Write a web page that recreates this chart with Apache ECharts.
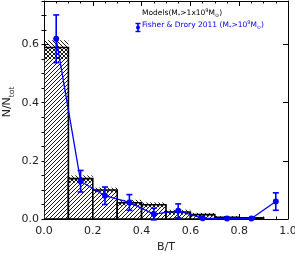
<!DOCTYPE html>
<html><head><meta charset="utf-8">
<script src="https://cdn.jsdelivr.net/npm/echarts@6/dist/echarts.min.js"></script>
<style>html,body{margin:0;padding:0;background:#fff}#c{width:295px;height:255px}</style>
</head><body><div id="c"></div><script>
// ---- data ----
const binStart = [0.0, 0.1, 0.2, 0.3, 0.4, 0.5, 0.6, 0.7, 0.8];
const binWidth = 0.1;
const modelFrac = [0.59, 0.139, 0.10, 0.056, 0.049, 0.024, 0.015, 0.006, 0.004];
const modelHi   = [0.615, 0.15, 0.108, 0.066, 0.057, 0.032, 0.021, 0.010, 0.007];
const modelLo   = [0.55, 0.125, 0.092, 0.046, 0.040, 0.015, 0.009, 0.002, 0.001];
const obsX   = [0.05, 0.15, 0.25, 0.35, 0.45, 0.55, 0.65, 0.75, 0.85, 0.95];
const obsY   = [0.62, 0.13, 0.08, 0.057, 0.017, 0.028, 0.003, 0.002, 0.002, 0.06];
const obsErr = [0.082, 0.037, 0.03, 0.027, 0.02, 0.024, 0, 0, 0, 0.03];
const xMin = 0, xMax = 1, yMin = 0, yMax = 0.75;

const FONT = 'DejaVu Sans';
function hatch(dir, bg) {
  const c = document.createElement('canvas'); c.width = 4; c.height = 4;
  const g = c.getContext('2d');
  if (bg) { g.fillStyle = bg; g.fillRect(0, 0, 4, 4); }
  g.strokeStyle = '#000'; g.lineWidth = 0.9; g.beginPath();
  if (dir > 0) { g.moveTo(-1,5); g.lineTo(5,-1); g.moveTo(-1,1); g.lineTo(1,-1); g.moveTo(3,5); g.lineTo(5,3); }
  else { g.moveTo(-1,-1); g.lineTo(5,5); g.moveTo(3,-1); g.lineTo(5,1); g.moveTo(-1,3); g.lineTo(1,5); }
  g.stroke(); return c;
}
const fwd = hatch(1, '#fff');
const back = hatch(-1, null);

const binData = binStart.map((s, i) => [s, modelFrac[i], modelLo[i], modelHi[i]]);
const obsData = obsX.map((x, i) => [x, obsY[i]]);
const errData = obsX.map((x, i) => [x, obsY[i] - obsErr[i], obsY[i] + obsErr[i]]);

function baseAxis(extra) {
  return Object.assign({
    type: 'value', min: xMin, max: xMax,
    axisLine: { show: true, onZero: false, lineStyle: { color: '#000', width: 1 } },
    splitLine: { show: false },
  }, extra);
}
const tickLbl = { fontFamily: FONT, fontSize: 11, color: '#222' };

const chart = echarts.init(document.getElementById('c'), null, { renderer: 'canvas' });
chart.setOption({
  animation: false,
  backgroundColor: '#fff',
  grid: { left: 44, right: 7, top: 1, bottom: 36, containLabel: false, outerBoundsMode: 'none' },
  xAxis: [
    baseAxis({ position: 'bottom', interval: 0.2,
      axisTick: { inside: true, length: 5, lineStyle: { color: '#000' } },
      minorTick: { show: true, splitNumber: 4, length: 2.5, lineStyle: { color: '#000' } },
      axisLabel: Object.assign({ margin: 7, formatter: v => v.toFixed(1) }, tickLbl),
      name: 'B/T', nameLocation: 'middle', nameGap: 21,
      nameTextStyle: { fontFamily: FONT, fontSize: 11, color: '#222' } }),
    baseAxis({ position: 'top', interval: 0.2,
      axisTick: { inside: true, length: 5, lineStyle: { color: '#000' } },
      minorTick: { show: true, splitNumber: 4, length: 2.5, lineStyle: { color: '#000' } },
      axisLabel: { show: false } })
  ],
  yAxis: [
    baseAxis({ position: 'left', min: yMin, max: yMax, interval: 0.2,
      axisTick: { inside: true, length: 5, lineStyle: { color: '#000' } },
      axisLabel: Object.assign({ margin: 5, showMaxLabel: false, formatter: v => v.toFixed(1) }, tickLbl) }),
    baseAxis({ position: 'left', min: yMin, max: yMax, interval: 0.05,
      axisLine: { show: false }, axisLabel: { show: false },
      axisTick: { inside: true, length: 2.5, lineStyle: { color: '#000' } } }),
    baseAxis({ position: 'right', min: yMin, max: yMax, interval: 0.2,
      axisTick: { inside: true, length: 5, lineStyle: { color: '#000' } }, axisLabel: { show: false } }),
    baseAxis({ position: 'right', min: yMin, max: yMax, interval: 0.05,
      axisLine: { show: false }, axisLabel: { show: false },
      axisTick: { inside: true, length: 2.5, lineStyle: { color: '#000' } } })
  ],
  series: [
    { type: 'custom', xAxisIndex: 0, yAxisIndex: 0, data: binData, z: 2, clip: true,
      renderItem: function (params, api) {
        const x0 = api.value(0), h = api.value(1), lo = api.value(2), hi = api.value(3);
        const a = api.coord([x0, h]), b = api.coord([x0 + binWidth, 0]);
        const bl = api.coord([x0, hi]), bh = api.coord([x0 + binWidth, lo]);
        return { type: 'group', children: [
          { type: 'rect', shape: { x: a[0], y: a[1], width: b[0] - a[0], height: b[1] - a[1] },
            style: { fill: { image: fwd, repeat: 'repeat' }, stroke: null } },
          { type: 'rect', shape: { x: bl[0], y: bl[1], width: bh[0] - bl[0], height: bh[1] - bl[1] },
            style: { fill: { image: back, repeat: 'repeat' }, stroke: null } },
          { type: 'rect', shape: { x: a[0], y: a[1], width: b[0] - a[0], height: b[1] - a[1] },
            style: { fill: null, stroke: '#000', lineWidth: 1.6 } }
        ] };
      } },
    { type: 'line', xAxisIndex: 0, yAxisIndex: 0, data: obsData, z: 5,
      symbol: 'circle', symbolSize: 6,
      lineStyle: { color: '#0000ff', width: 1.3 }, itemStyle: { color: '#0000ff' } },
    { type: 'custom', xAxisIndex: 0, yAxisIndex: 0, data: errData, z: 6,
      renderItem: function (params, api) {
        const x = api.value(0);
        const p1 = api.coord([x, api.value(1)]), p2 = api.coord([x, api.value(2)]);
        const st = { stroke: '#0000ff', lineWidth: 1.6 };
        return { type: 'group', children: [
          { type: 'line', shape: { x1: p1[0], y1: p1[1], x2: p2[0], y2: p2[1] }, style: st },
          { type: 'line', shape: { x1: p1[0] - 3, y1: p1[1], x2: p1[0] + 3, y2: p1[1] }, style: st },
          { type: 'line', shape: { x1: p2[0] - 3, y1: p2[1], x2: p2[0] + 3, y2: p2[1] }, style: st }
        ] };
      } }
  ],
  graphic: [
    { type: 'text', x: 9, y: 102, rotation: Math.PI / 2, z: 10,
      style: { text: '{a|N/N}{s|tot}', align: 'center', verticalAlign: 'middle',
        rich: { a: { fontFamily: FONT, fontSize: 11, fill: '#222', lineHeight: 15, verticalAlign: 'top' },
                s: { fontFamily: FONT, fontSize: 7.5, fill: '#222', lineHeight: 15, verticalAlign: 'bottom' } } } },
    { type: 'text', left: 142, top: 8, z: 10,
      style: { text: '{a|Models(M}{s|*}{a|>1x10}{p|9}{a|M}{s|⊙}{a|)}',
        rich: { a: { fontFamily: FONT, fontSize: 7.5, fill: '#000', lineHeight: 10, verticalAlign: 'middle' },
                s: { fontFamily: FONT, fontSize: 5, fill: '#000', lineHeight: 10, verticalAlign: 'bottom' },
                p: { fontFamily: FONT, fontSize: 5, fill: '#000', lineHeight: 10, verticalAlign: 'top' } } } },
    { type: 'text', left: 142, top: 20, z: 10,
      style: { text: '{a|Fisher & Drory 2011 (M}{s|*}{a|>10}{p|9}{a|M}{s|⊙}{a|)}',
        rich: { a: { fontFamily: FONT, fontSize: 7.5, fill: '#0000ff', lineHeight: 10, verticalAlign: 'middle' },
                s: { fontFamily: FONT, fontSize: 5, fill: '#0000ff', lineHeight: 10, verticalAlign: 'bottom' },
                p: { fontFamily: FONT, fontSize: 5, fill: '#0000ff', lineHeight: 10, verticalAlign: 'top' } } } },
    { type: 'group', left: 133, top: 21, z: 10, children: [
      { type: 'line', shape: { x1: 2.5, y1: 0, x2: 2.5, y2: 8 }, style: { stroke: '#0000ff', lineWidth: 1.6 } },
      { type: 'line', shape: { x1: 0, y1: 0, x2: 5, y2: 0 }, style: { stroke: '#0000ff', lineWidth: 1.4 } },
      { type: 'line', shape: { x1: 0, y1: 8, x2: 5, y2: 8 }, style: { stroke: '#0000ff', lineWidth: 1.4 } },
      { type: 'circle', shape: { cx: 2.5, cy: 4, r: 2 }, style: { fill: '#0000ff' } }
    ] }
  ]
});
</script></body></html>
